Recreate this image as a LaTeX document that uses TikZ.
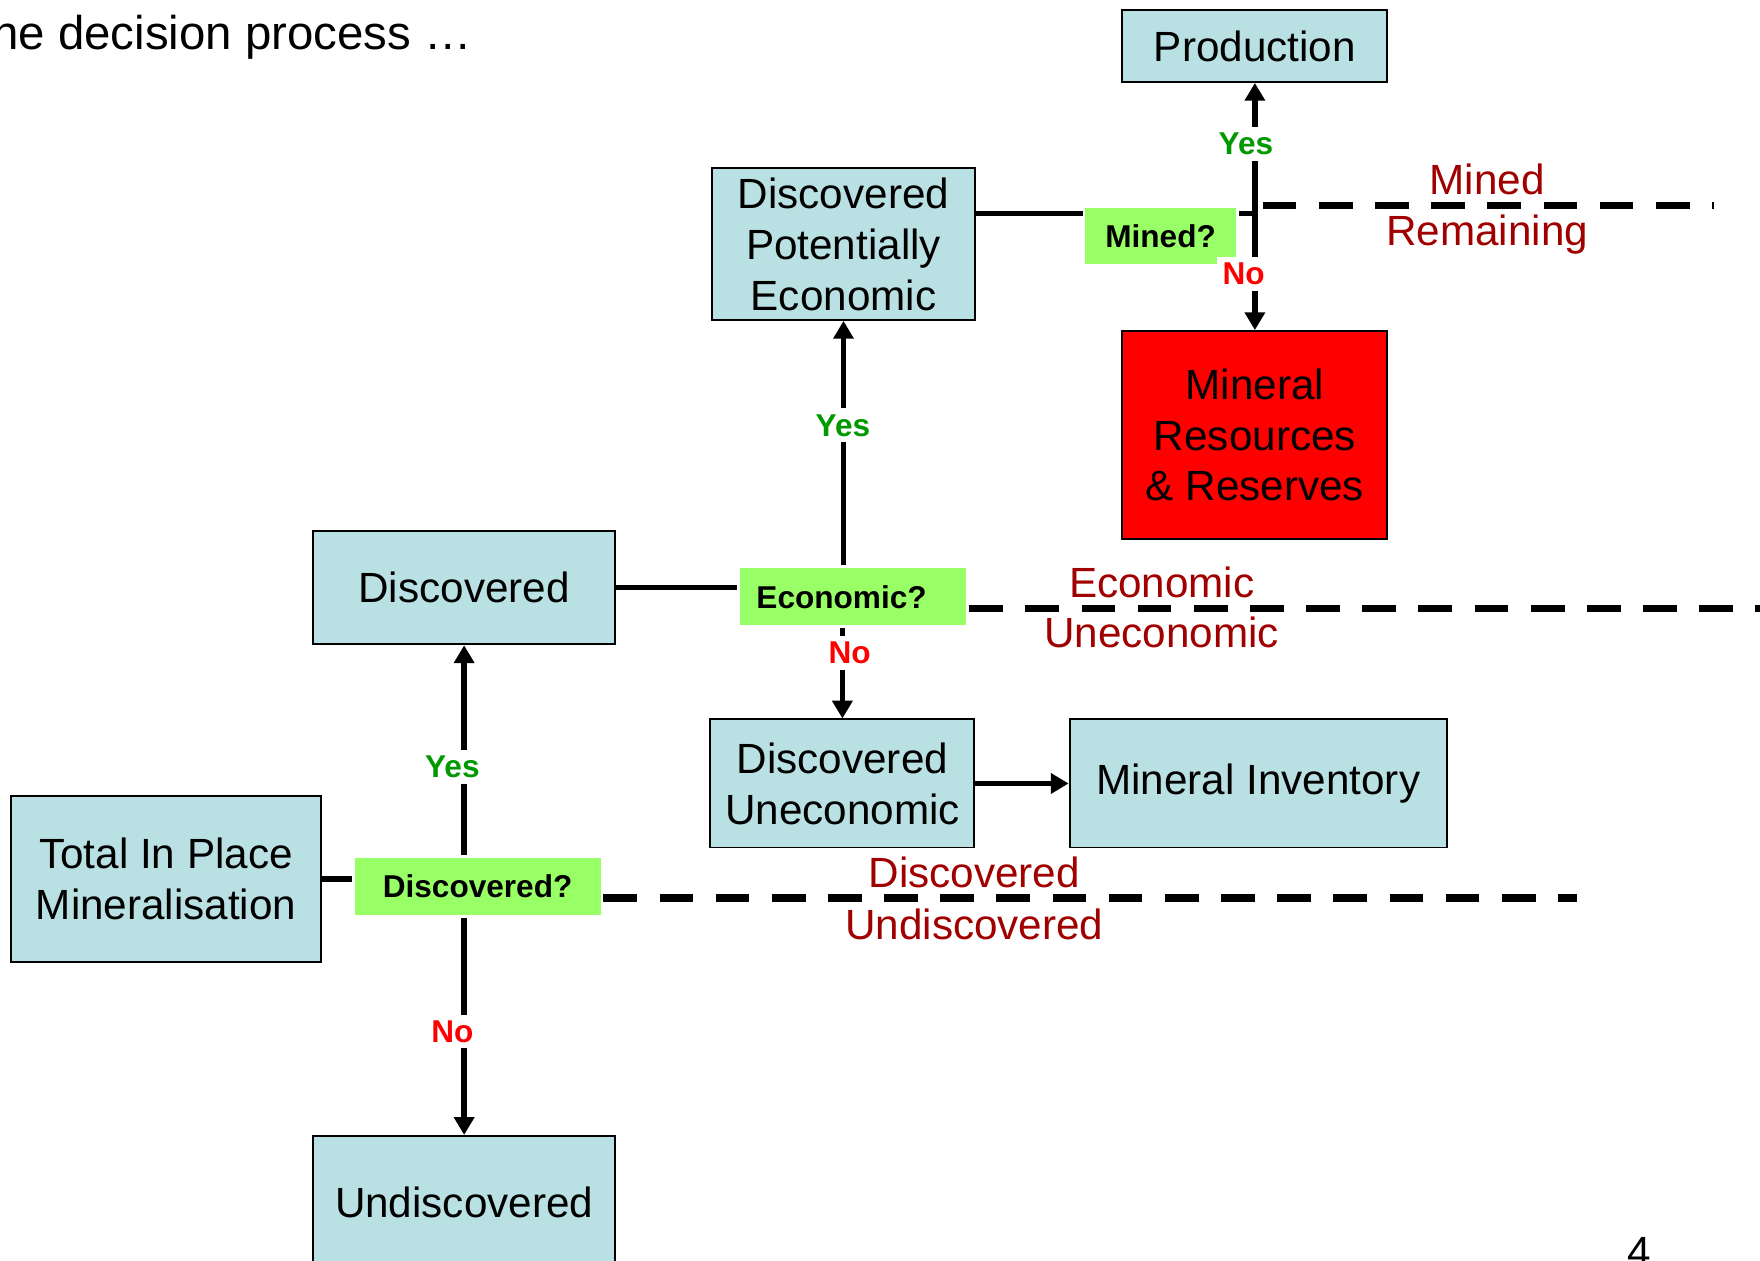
\documentclass[tikz,border=0pt]{standalone}
\usepackage{fontspec}
\setmainfont{Liberation Sans}
\usetikzlibrary{positioning, arrows.meta}
\definecolor{stockblue}{RGB}{185,224,226}
\definecolor{askgreen}{RGB}{153,255,102}
\definecolor{yesgreen}{RGB}{0,153,0}
\definecolor{limitred}{RGB}{160,0,0}
\tikzset{stock/.style={draw,line width=0.5pt,fill=stockblue,align=center,inner sep=0pt,font=\fontsize{10.7}{12.9}\selectfont},
         ask/.style={fill=askgreen,inner sep=0pt,font=\bfseries\fontsize{8}{9.6}\selectfont},
         yeslabel/.style={fill=white,text=yesgreen,inner sep=1.5pt,font=\bfseries\fontsize{8}{9.6}\selectfont},
         nolabel/.style={fill=white,text=red,inner sep=1.5pt,font=\bfseries\fontsize{8}{9.6}\selectfont},
         limit/.style={line width=1.8pt,dash pattern=on 0.3cm off 0.2cm},
         side/.style={text=limitred,inner sep=0pt,anchor=base,font=\fontsize{10.7}{12.9}\selectfont},
        }

\begin{document}
\begin{tikzpicture}[x=0.01cm,y=-0.01cm,line width=1.4pt,>={Triangle[length=4.5pt,width=5pt]}]
        \useasboundingbox(0,0)rectangle(1568,1123);

        \node[anchor=base west,inner sep=0pt,font=\fontsize{12}{14}\selectfont](title)at(-21,44){the decision process …};
        \node[anchor=base,inner sep=0pt,font=\fontsize{10.7}{12.9}\selectfont](pagenum)at(1460,1128){4};

        \node[stock,minimum width=2.36cm,minimum height=0.64cm](prod)at(1118,41){Production};
        \node[stock,minimum width=2.35cm,minimum height=1.35cm](dpe)at(751.5,217.5){Discovered\\Potentially\\Economic};
        \node[ask,minimum width=1.34cm,minimum height=0.50cm](minedq)at(1034,210){Mined?};
        \node[stock,fill=red,minimum width=2.36cm,minimum height=1.85cm](mrr)at(1118,387.5){Mineral\\Resources\\\& Reserves};
        \node[stock,minimum width=2.69cm,minimum height=1.01cm](disc)at(413.5,523.5){Discovered};
        \node[ask,minimum width=2.02cm,minimum height=0.51cm,text depth=0pt,align=left,text width=1.72cm](econq)at(760,531.5){Economic?};
        \node[stock,minimum width=2.35cm,minimum height=1.14cm](du)at(750.5,698){Discovered\\Uneconomic};
        \node[stock,minimum width=3.36cm,minimum height=1.14cm](mi)at(1121,698){Mineral Inventory};
        \node[stock,minimum width=2.76cm,minimum height=1.48cm](tipm)at(148,783){Total In Place\\Mineralisation};
        \node[ask,minimum width=2.19cm,minimum height=0.51cm](discq)at(425.5,789.5){Discovered?};
        \node[stock,minimum width=2.69cm,minimum height=1.18cm](undisc)at(413.5,1071){Undiscovered};

        \coordinate(mj)at(1118,190);
        \coordinate(mr)at(1527,183);
        \coordinate(eu)at(1580,542);
        \coordinate(dd)at(1405,800);

        \draw(dpe.east|-mj)--(minedq.west|-mj);
        \draw(minedq.east|-mj)--(mj);
        \draw[->](mj)--(prod.south);
        \draw[->](mj)--(mrr.north);
        \draw[limit]([xshift=0.07cm]mj|-mr)--(mr);

        \draw(disc.east)--(econq.west|-disc.east);
        \draw[->](econq.north-|dpe.south)--(dpe.south);
        \draw[->](econq.south-|du.north)--(du.north);
        \draw[limit](econq.east|-eu)--(eu);
        \draw[->](du.east)--(mi.west);

        \draw(tipm.east)--(discq.west|-tipm.east);
        \draw[->](discq.north-|disc.south)--(disc.south);
        \draw[->](discq.south-|undisc.north)--(undisc.north);
        \draw[limit](discq.east|-dd)--(dd);

        \node[yeslabel](yes1)at(1110,128){Yes};
        \node[nolabel](no1)at(1108,244){No};
        \node[yeslabel](yes2)at(751,379){Yes};
        \node[nolabel](no2)at(757,582){No};
        \node[yeslabel](yes3)at(403,683){Yes};
        \node[nolabel](no3)at(403,919){No};

        \node[side](mined)at(1325,173){Mined};
        \node[side](remain)at(1325,219){Remaining};
        \node[side](econ)at(1035,532){Economic};
        \node[side](unecon)at(1035,577){Uneconomic};
        \node[side](found)at(868,791){Discovered};
        \node[side](unfound)at(868,837){Undiscovered};
\end{tikzpicture}
\end{document}
